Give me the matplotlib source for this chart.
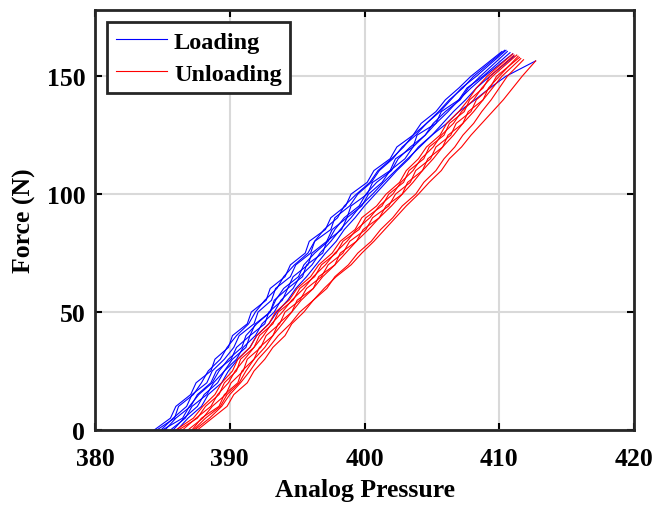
# -*- coding: utf-8 -*-

# Imports #####################################################

import matplotlib
matplotlib.use("Agg")
import matplotlib.pyplot as plt


# Data ########################################################

# force grid shared by all cycles (N)
forca = [0, 5, 10, 15, 20, 25, 30, 35, 40, 45, 50, 55, 60, 65, 70, 75,
         80, 85, 90, 95, 100, 105, 110, 115, 120, 125, 130, 135, 140, 145, 150]

# loading cycles: analog pressure at each force level
carga = [
    [384.4, 385.6, 386.0, 387.1, 387.5, 388.6, 388.9, 389.9, 390.2, 391.3, 391.6, 392.7, 393.0, 394.1, 394.5, 395.6,
     395.9, 397.1, 397.5, 398.6, 399.0, 400.2, 400.7, 401.9, 402.4, 403.6, 404.2, 405.3, 406.0, 407.0, 407.9],
    [384.9, 385.8, 386.8, 387.2, 388.3, 388.7, 389.6, 390.3, 390.7, 391.8, 392.1, 393.1, 393.4, 394.5, 394.9, 396.0,
     396.3, 397.5, 397.8, 398.9, 399.5, 400.5, 401.1, 402.1, 402.8, 403.8, 404.6, 405.6, 406.4, 407.2, 408.3],
    [385.2, 386.0, 387.1, 387.6, 388.6, 389.0, 390.1, 390.5, 391.5, 391.9, 393.0, 393.3, 394.3, 394.7, 395.8, 396.1,
     397.2, 397.6, 398.7, 399.0, 400.2, 400.6, 401.9, 402.3, 403.6, 403.9, 405.3, 405.7, 407.0, 407.6, 408.8],
    [385.6, 386.7, 387.2, 388.3, 388.8, 389.6, 390.2, 391.2, 391.5, 392.6, 392.9, 393.9, 394.3, 395.4, 395.7, 396.9,
     397.2, 398.3, 398.7, 399.8, 400.3, 401.3, 401.9, 403.0, 403.6, 404.5, 405.3, 406.2, 407.0, 407.9, 408.9],
    [386.1, 386.9, 387.9, 388.4, 389.4, 389.9, 390.6, 391.5, 392.0, 392.9, 393.5, 394.3, 394.9, 395.7, 396.4, 397.1,
     397.9, 398.5, 399.3, 400.0, 400.8, 401.6, 402.4, 403.3, 404.0, 405.0, 405.8, 406.6, 407.5, 408.3, 409.3],
    [385.8, 386.6, 387.6, 388.1, 389.1, 389.6, 390.5, 391.0, 391.9, 392.4, 393.3, 393.8, 394.7, 395.2, 396.1, 396.7,
     397.5, 398.2, 399.0, 399.7, 400.6, 401.4, 402.3, 403.2, 404.1, 405.0, 406.1, 407.0, 408.2, 409.3, 410.5],
    [384.6, 385.9, 386.2, 387.3, 387.9, 388.4, 389.3, 389.8, 390.5, 391.4, 391.9, 392.6, 393.5, 394.0, 394.8, 395.8,
     396.3, 397.0, 398.0, 398.5, 399.4, 400.4, 401.0, 402.0, 402.9, 403.6, 404.6, 405.5, 406.3, 407.3, 408.1],
    [385.0, 386.5, 387.0, 387.7, 388.7, 389.2, 389.9, 390.9, 391.2, 392.0, 393.0, 393.4, 394.0, 395.1, 395.5, 396.3,
     397.3, 397.8, 398.5, 399.6, 400.1, 400.9, 402.0, 402.5, 403.4, 404.5, 405.1, 406.0, 407.1, 407.7, 408.6],
]
pico_carga_x = [410.2, 410.5, 410.8, 411.0, 411.1, 412.7, 410.4, 410.6]
pico_carga_y = [160.5, 161.0, 160.0, 159.5, 158.5, 156.5, 161.0, 160.5]

# unloading cycles
descarga = [
    [386.0, 387.3, 388.0, 388.9, 389.4, 390.2, 390.6, 391.5, 392.0, 392.9, 393.4, 394.4, 395.0, 396.0, 396.6, 397.6,
     398.2, 399.3, 399.8, 400.9, 401.6, 402.6, 403.1, 404.0, 404.6, 405.6, 406.1, 407.0, 407.7, 408.3, 409.1],
    [386.5, 387.5, 388.6, 389.1, 389.9, 390.4, 391.1, 391.8, 392.5, 393.1, 393.9, 394.6, 395.5, 396.2, 397.1, 397.8,
     398.7, 399.4, 400.4, 401.1, 402.1, 402.7, 403.6, 404.2, 405.1, 405.7, 406.6, 407.2, 408.1, 408.7, 409.5],
    [386.9, 388.0, 388.7, 389.7, 390.1, 391.0, 391.3, 392.3, 392.7, 393.7, 394.1, 395.2, 395.7, 396.8, 397.3, 398.4,
     398.9, 400.1, 400.6, 401.8, 402.3, 403.4, 403.8, 404.9, 405.3, 406.4, 406.8, 407.9, 408.3, 409.3, 409.8],
    [387.3, 388.2, 389.3, 389.8, 390.7, 391.2, 391.8, 392.6, 393.2, 393.9, 394.6, 395.3, 396.2, 396.9, 397.8, 398.6,
     399.4, 400.3, 401.1, 402.0, 402.8, 403.6, 404.3, 405.1, 405.8, 406.6, 407.3, 408.1, 408.8, 409.5, 410.2],
    [387.6, 388.7, 389.8, 390.3, 391.3, 391.8, 392.6, 393.2, 394.1, 394.6, 395.5, 396.2, 397.2, 397.8, 398.8, 399.5,
     400.5, 401.2, 402.1, 402.8, 403.8, 404.4, 405.3, 405.9, 406.7, 407.3, 408.1, 408.7, 409.4, 410.0, 410.6],
    [387.4, 388.5, 389.4, 390.0, 390.8, 391.5, 392.1, 392.9, 393.6, 394.5, 395.2, 396.2, 397.0, 397.9, 399.0, 399.8,
     400.7, 401.5, 402.3, 403.1, 404.0, 404.8, 405.7, 406.3, 407.2, 407.9, 408.7, 409.5, 410.3, 411.0, 411.7],
    [387.2, 387.9, 389.2, 389.6, 390.6, 390.9, 391.8, 392.2, 393.2, 393.6, 394.6, 395.0, 396.2, 396.6, 397.8, 398.2,
     399.4, 399.9, 401.1, 401.6, 402.8, 403.2, 404.3, 404.7, 405.8, 406.2, 407.3, 407.7, 408.8, 409.2, 410.0],
    [386.2, 387.6, 388.2, 389.2, 389.6, 390.5, 390.8, 391.8, 392.2, 393.2, 393.6, 394.7, 395.2, 396.3, 396.8, 397.9,
     398.4, 399.6, 400.1, 401.3, 401.8, 402.9, 403.3, 404.4, 404.8, 405.9, 406.3, 407.4, 407.8, 408.8, 409.3],
]
pico_descarga_x = [411.0, 411.3, 411.5, 411.6, 411.8, 412.7, 411.4, 411.1]
pico_descarga_y = [159.5, 159.0, 158.0, 157.5, 157.0, 156.5, 158.5, 159.0]


# Plot ########################################################

plt.rcParams['font.family'] = ['Liberation Serif', 'DejaVu Serif']
plt.rcParams['font.weight'] = 'bold'
plt.rcParams['font.size'] = 18.5

fig = plt.figure(figsize=(6.57, 5.10), dpi=100)
ax = fig.add_axes([0.1446, 0.155, 0.8204, 0.823])

for i in range(len(carga)):
    ax.plot(carga[i] + [pico_carga_x[i]], forca + [pico_carga_y[i]], color='b', lw=0.8,
            label="Loading" if i == 0 else None)
for i in range(len(descarga)):
    ax.plot(descarga[i] + [pico_descarga_x[i]], forca + [pico_descarga_y[i]], color='r', lw=0.8,
            label="Unloading" if i == 0 else None)

ax.set_xlim(380, 420)
ax.set_ylim(0, 178)
ax.set_xticks([380, 390, 400, 410, 420])
ax.set_yticks([0, 50, 100, 150])
ax.grid(True, color='#d9d9d9', lw=1.5)
ax.set_axisbelow(True)
ax.tick_params(direction='in', length=5, width=1.5, top=True, right=True)
ax.tick_params(axis='x', pad=12)
ax.tick_params(axis='y', pad=7)
for s in ax.spines.values():
    s.set_linewidth(2)
    s.set_color('#262626')

ax.set_xlabel("Analog Pressure", fontweight='bold', labelpad=6)
ax.set_ylabel("Force (N)", fontweight='bold', labelpad=8)

leg = ax.legend(loc='upper left', fancybox=False, framealpha=1, edgecolor='#262626',
                handlelength=2.1, handletextpad=0.3, labelspacing=0.4,
                borderpad=0.35, borderaxespad=0.5, prop={'weight': 'bold', 'size': 17.5})
leg.get_frame().set_linewidth(2)

plt.savefig("out.png", dpi=100)
